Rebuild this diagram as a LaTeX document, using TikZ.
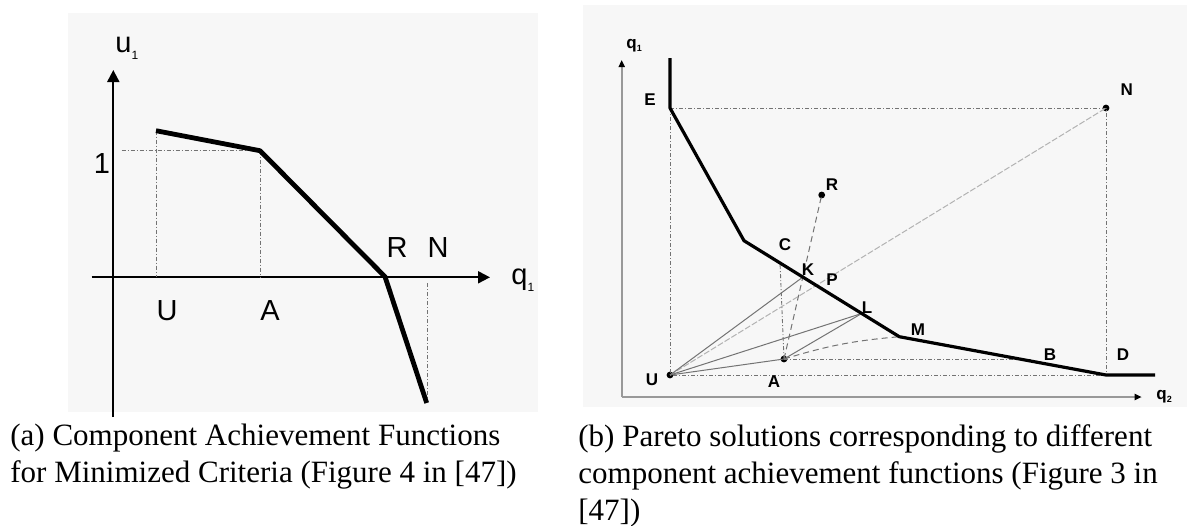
\documentclass[tikz,border=0pt]{standalone}
\usepackage{fontspec}
\setmainfont{Liberation Serif}
\setsansfont{Liberation Sans}
\usetikzlibrary{arrows.meta,calc}

\newcommand{\sub}[1]{\raisebox{-0.25em}{\fontsize{6}{6}\selectfont #1}}
\newcommand{\subb}[1]{\raisebox{-0.2em}{\fontsize{4.5}{4.5}\selectfont #1}}

\begin{document}
\begin{tikzpicture}[
  x=0.5pt, y=-0.5pt,
  panel/.style={fill=black!3, draw=none},
  axa/.style={-{Triangle[length=6pt,width=6pt]}, line width=1pt},
  axb/.style={-{Triangle[length=3.5pt,width=3pt,color=black]}, line width=1pt, draw=black!40},
  front/.style={line width=2.4pt, line join=round},
  frontb/.style={line width=1.6pt, line join=round},
  guide/.style={black!55, line width=0.45pt, dash pattern=on 2pt off 1pt on 0.5pt off 1pt},
  ray/.style={black!55, line width=0.5pt},
  faint/.style={black!30, line width=0.5pt, dash pattern=on 3pt off 1pt},
  dot/.style={circle, fill=black, inner sep=0pt, minimum size=3.4pt},
  lbla/.style={font=\sffamily\fontsize{14.5}{14.5}\selectfont, inner sep=0pt},
  lblb/.style={font=\sffamily\bfseries\fontsize{8.5}{8.5}\selectfont, inner sep=0pt},
  captxt/.style={font=\fontsize{15.5}{18.5}\selectfont, align=left, inner sep=0pt, anchor=north west}
]
  \useasboundingbox (0,0) rectangle (1187,525);
  \fill[panel] (68,13) rectangle (538,412);
  \fill[panel] (583,5) rectangle (1187,407);

  % (a) component achievement function
  \coordinate (O) at (113.3,277.3);
  \draw[axa] (113.3,417) -- (113.3,70);
  \draw[axa] (91.7,277.3) -- (490,277.3);
  \coordinate (a1) at (156,130.7);
  \coordinate (a2) at (260,150.7);
  \coordinate (a3) at (385,276.7);
  \coordinate (a4) at (426.7,403);
  \draw[guide] (121.7,150.7) -- (a2);
  \draw[guide] (a1) -- (a1 |- O);
  \draw[guide] (a2) -- (a2 |- O);
  \draw[guide] (427.7,283) -- (427.7,400);
  \draw[front] (a1) -- (a2) -- (a3) -- (a4);

  \node[lbla, anchor=base west] (lu1) at (115,52) {u\sub{1}};
  \node[lbla, anchor=base west] (lq1) at (511,284) {q\sub{1}};
  \node[lbla, anchor=base] (lone) at (102,173) {1};
  \node[lbla, anchor=base] (lR) at (397,257) {R};
  \node[lbla, anchor=base] (lN) at (438,257) {N};
  \node[lbla, anchor=base] (lU) at (167,320) {U};
  \node[lbla, anchor=base] (lA) at (270,320) {A};

  % (b) Pareto solutions
  \coordinate (Z) at (621.7,397);
  \draw[axb] (Z) -- (621.7,60);
  \draw[axb] (Z) -- (1141.7,397);

  \coordinate (top) at (670,58);
  \coordinate (E) at (670,108);
  \coordinate (Q) at (744,240.7);
  \coordinate (M) at (899.3,336.7);
  \coordinate (D) at (1106,375);
  \coordinate (end) at (1155,375);
  \coordinate (C) at ($(Q)!0.232!(M)$);
  \coordinate (K) at ($(Q)!0.379!(M)$);
  \coordinate (P) at ($(Q)!0.466!(M)$);
  \coordinate (L) at ($(Q)!0.758!(M)$);
  \coordinate (B) at ($(M)!0.64!(D)$);

  \node[dot] (N) at (1106,108) {};
  \node[dot] (U) at (670,375) {};
  \node[dot] (A) at (784,359) {};
  \node[dot] (R) at (821.7,195) {};

  % box and guides
  \draw[guide] (E) -- (N.center) -- (D);
  \draw[guide] (E) -- (U.center) -- (D);
  \draw[guide] (A.center) -- (C);
  \draw[guide] (A.center) -- (A.center -| B);
  \draw[faint] (U.center) -- (N.center);

  % rays
  \draw[ray] (U.center) -- (K);
  \draw[ray] (U.center) -- (L);
  \draw[ray] (U.center) -- (A.center);
  \draw[ray] (A.center) -- (L);
  \draw[ray, densely dashed] (A.center) to[bend left=6] (M);
  \draw[ray, densely dashed] (A.center) -- (R.center);

  \draw[frontb] (top) -- (E) -- (Q) -- (M) -- (D) -- (end);

  \node[lblb, anchor=base west] (lq1b) at (626,48) {q\subb{1}};
  \node[lblb, anchor=base west] (lq2b) at (1156,399) {q\subb{2}};
  \node[lblb] (lE) at (650,100) {E};
  \node[lblb] (lNb) at (1126.7,90) {N};
  \node[lblb] (lRb) at (832,185) {R};
  \node[lblb] (lC) at (785,245) {C};
  \node[lblb] (lK) at (808,270) {K};
  \node[lblb] (lP) at (832,280) {P};
  \node[lblb] (lL) at (867,308) {L};
  \node[lblb] (lM) at (918,330) {M};
  \node[lblb] (lB) at (1050,355) {B};
  \node[lblb] (lD) at (1123,355) {D};
  \node[lblb] (lUb) at (652,380) {U};
  \node[lblb] (lAb) at (774,382) {A};

  % captions
  \node[captxt] (capa) at (10,424)
    {(a) Component Achievement Functions\\for Minimized Criteria (Figure 4 in [47])};
  \node[captxt] (capb) at (578,424)
    {(b) Pareto solutions corresponding to different\\component achievement functions (Figure 3 in\\{}[47])};
\end{tikzpicture}
\end{document}
